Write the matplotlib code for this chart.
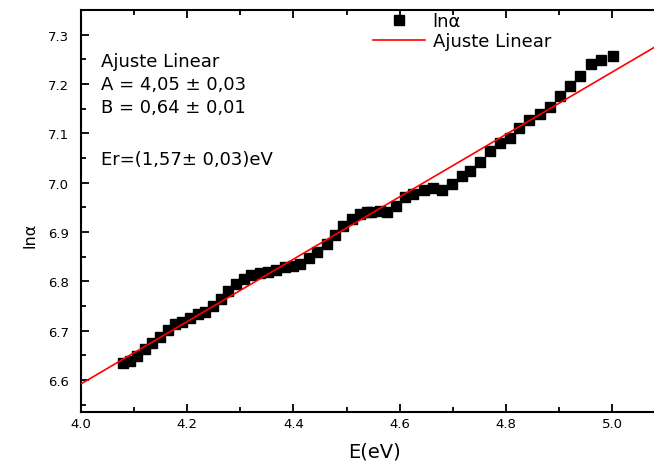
import matplotlib
matplotlib.use("Agg")
import matplotlib.pyplot as plt
from matplotlib.ticker import MultipleLocator
import numpy as np

plt.rcParams['font.family'] = ['DejaVu Sans']

# Data
E_eV = [4.080, 4.092, 4.105, 4.121, 4.133, 4.149, 4.163, 4.177, 4.190, 4.205,
        4.221, 4.234, 4.249, 4.263, 4.277, 4.292, 4.306, 4.321, 4.337, 4.353,
        4.368, 4.384, 4.400, 4.412, 4.430, 4.445, 4.463, 4.478, 4.494, 4.510,
        4.525, 4.539, 4.547, 4.563, 4.576, 4.593, 4.610, 4.626, 4.645, 4.662,
        4.679, 4.698, 4.717, 4.733, 4.751, 4.770, 4.789, 4.807, 4.825, 4.844,
        4.864, 4.883, 4.902, 4.921, 4.940, 4.960, 4.979, 5.001]
ln_alpha = [6.635, 6.638, 6.648, 6.662, 6.674, 6.688, 6.702, 6.713, 6.717, 6.725,
            6.733, 6.738, 6.750, 6.765, 6.780, 6.794, 6.804, 6.812, 6.816, 6.819,
            6.823, 6.828, 6.831, 6.836, 6.848, 6.859, 6.875, 6.893, 6.913, 6.927,
            6.936, 6.940, 6.941, 6.942, 6.940, 6.953, 6.970, 6.976, 6.985, 6.990,
            6.985, 6.997, 7.013, 7.024, 7.042, 7.064, 7.081, 7.091, 7.110, 7.127,
            7.139, 7.154, 7.176, 7.196, 7.216, 7.240, 7.249, 7.257]

# Linear fit line (as drawn)
fit_intercept = 4.064
fit_slope = 0.632
fit_x = [4.0, 5.1]

x_ticks = [4.0, 4.2, 4.4, 4.6, 4.8, 5.0]
y_ticks = [6.6, 6.7, 6.8, 6.9, 7.0, 7.1, 7.2, 7.3]

fit_lines = ['Ajuste Linear', 'A = 4,05 ± 0,03', 'B = 0,64 ± 0,01']
er_line = 'Er=(1,57± 0,03)eV'

W, H = 654, 464
fig = plt.figure(figsize=(6.54, 4.64), dpi=100)
ax = fig.add_axes([81/W, 1-413/H, 1-81/W, (413-11)/H])

fx = np.array(fit_x)
ax.plot(fx, fit_intercept + fit_slope*fx, color='red', lw=1.2, label='Ajuste Linear', zorder=3)
ax.plot(E_eV, ln_alpha, 's', color='black', markersize=7.3, label='lnα', zorder=2)

ax.set_xlim(4.0, 5.079)
ax.set_ylim(6.535, 7.35)
ax.set_xticks(x_ticks)
ax.set_yticks(y_ticks)
ax.xaxis.set_minor_locator(MultipleLocator(0.1))
ax.yaxis.set_minor_locator(MultipleLocator(0.05))
ax.tick_params(which='both', direction='in', top=True, right=False, width=1.3, labelsize=9.5)
ax.tick_params(which='major', length=6)
ax.tick_params(which='minor', length=3.5)
ax.tick_params(axis='x', pad=3.5)
ax.tick_params(axis='y', pad=8.5)
for s in ['left', 'bottom', 'top']:
    ax.spines[s].set_linewidth(1.5)
ax.spines['right'].set_visible(False)

ax.set_xlabel('E(eV)', fontsize=14, va='center')
ax.xaxis.set_label_coords((375-81)/573, (413-452)/402)
ax.set_ylabel('lnα', fontsize=11.5, va='center')
ax.yaxis.set_label_coords((30-81)/573, (413-235)/402)

h, l = ax.get_legend_handles_labels()
ax.legend([h[1], h[0]], [l[1], l[0]], loc='upper left',
          bbox_to_anchor=(373/W, 1-13/H), bbox_transform=fig.transFigure,
          frameon=False, fontsize=13, handlelength=2.9, handletextpad=0.4,
          labelspacing=0.12, borderaxespad=0.0, borderpad=0.0)

for txt, yc in zip(fit_lines, [62, 85, 108]):
    ax.text(101/W, 1-yc/H, txt, transform=fig.transFigure, fontsize=13,
            va='center', ha='left')
ax.text(101/W, 1-160/H, er_line, transform=fig.transFigure, fontsize=13,
        va='center', ha='left')

fig.savefig('out.png', dpi=100)
